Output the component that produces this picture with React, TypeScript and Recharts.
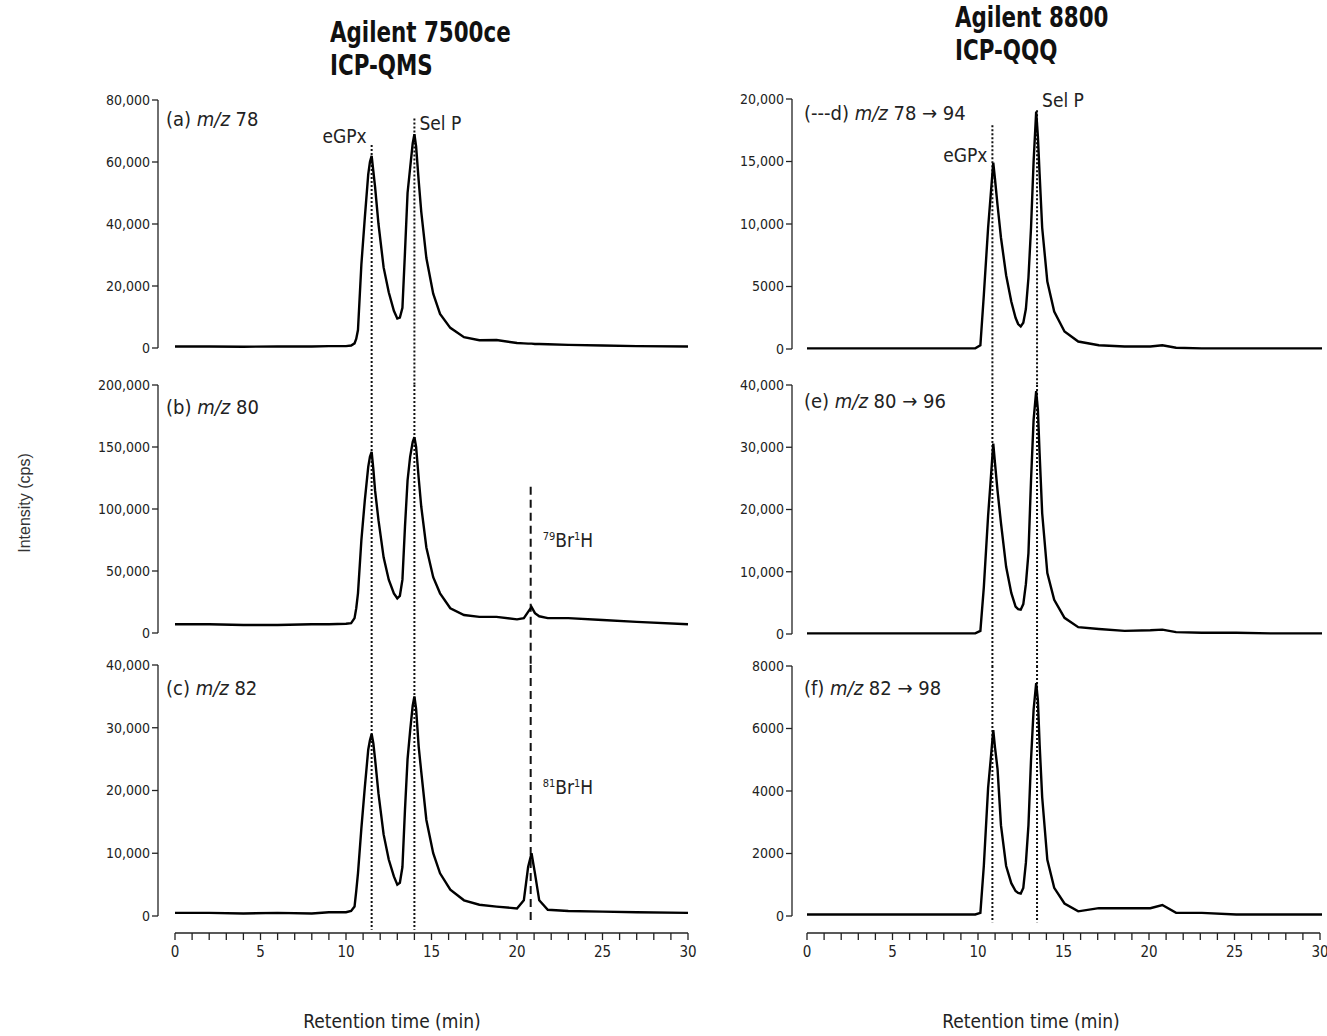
import React from 'react';
import { LineChart, Line, XAxis, YAxis, ReferenceLine } from 'recharts';

const FONT = "'Liberation Sans Narrow', 'DejaVu Sans Condensed', 'DejaVu Sans', sans-serif";
const INK = '#222';

// ICP-QMS (7500ce) retention times, min
const qmsTime = [0, 2, 4, 6, 8, 9, 10, 10.3, 10.5, 10.6, 10.7, 10.9, 11.1, 11.3, 11.4, 11.5, 11.6, 11.7, 11.9, 12.2, 12.5, 12.8, 13.0, 13.15, 13.3, 13.45, 13.6, 13.75, 13.9, 14.0, 14.1, 14.25, 14.4, 14.7, 15.1, 15.5, 16.1, 16.9, 17.8, 18.8, 20.0, 20.4, 20.65, 20.85, 21.05, 21.3, 21.8, 23, 25, 27, 30];
const mz78 = [500, 500, 400, 500, 500, 600, 600, 800, 1500, 3000, 5800, 27000, 42000, 56000, 60000, 62000, 57000, 52000, 40000, 26000, 18000, 12000, 9500, 9800, 13000, 31000, 50000, 58000, 66000, 69000, 65000, 54000, 44000, 29000, 17500, 11000, 6500, 3500, 2500, 2600, 1600, 1500, 1400, 1400, 1300, 1300, 1200, 1000, 800, 600, 500];
const mz80 = [7000, 7000, 6500, 6500, 7000, 7000, 7500, 8000, 12000, 20000, 32000, 75000, 107000, 134000, 142000, 146000, 132000, 115000, 91000, 61000, 43000, 32000, 28000, 30000, 43000, 86000, 123000, 142000, 154000, 158000, 150000, 125000, 102000, 69000, 45000, 32000, 20000, 14500, 13000, 13000, 11000, 12000, 17000, 21000, 16000, 13500, 12000, 12000, 10500, 9000, 7000];
const mz82 = [500, 500, 400, 500, 400, 600, 600, 800, 1500, 4000, 6800, 14000, 20500, 26500, 28000, 29000, 27500, 25000, 19500, 13000, 9000, 6300, 5000, 5300, 7800, 17000, 25000, 29500, 33500, 35000, 33000, 27000, 23000, 15300, 10000, 6800, 4200, 2500, 1800, 1500, 1200, 2500, 7800, 10000, 6800, 2500, 1000, 800, 700, 600, 500];

// ICP-QQQ (8800) retention times, min
const qqqTime = [0, 2, 4, 6, 8, 9, 9.8, 10.1, 10.3, 10.55, 10.7, 10.85, 10.95, 11.1, 11.3, 11.6, 11.9, 12.15, 12.3, 12.45, 12.6, 12.75, 12.9, 13.05, 13.2, 13.35, 13.45, 13.55, 13.7, 14.0, 14.4, 15.0, 15.8, 17, 18.5, 20, 20.7, 21.5, 23, 25, 27, 30];
const mz78to94 = [50, 50, 50, 50, 50, 50, 50, 300, 4300, 9700, 12300, 14900, 13600, 11500, 8900, 5900, 3800, 2500, 2000, 1800, 2100, 3200, 5700, 9700, 15000, 19000, 17000, 14000, 9700, 5400, 3000, 1400, 600, 300, 200, 200, 300, 100, 50, 50, 50, 50];
const mz80to96 = [100, 100, 100, 100, 100, 100, 100, 500, 7500, 19000, 24700, 30600, 27500, 23000, 17800, 10800, 6600, 4400, 4000, 3900, 4800, 8000, 13000, 24700, 34400, 39000, 36000, 29000, 19400, 9800, 5500, 2600, 1100, 800, 500, 600, 700, 300, 200, 200, 100, 100];
const mz82to98 = [50, 50, 50, 50, 50, 50, 50, 100, 1600, 4100, 5000, 5950, 5400, 4700, 2900, 1600, 1050, 800, 740, 720, 900, 1700, 2900, 5000, 6600, 7450, 6900, 5500, 3800, 1800, 900, 400, 150, 250, 250, 250, 350, 100, 100, 50, 50, 50];

const ticksA = [0, 20000, 40000, 60000, 80000];
const ticksB = [0, 50000, 100000, 150000, 200000];
const ticksC = [0, 10000, 20000, 30000, 40000];
const ticksD = [0, 5000, 10000, 15000, 20000];
const ticksE = [0, 10000, 20000, 30000, 40000];
const ticksF = [0, 2000, 4000, 6000, 8000];
const timeTicks = [0, 1, 2, 3, 4, 5, 6, 7, 8, 9, 10, 11, 12, 13, 14, 15, 16, 17, 18, 19, 20, 21, 22, 23, 24, 25, 26, 27, 28, 29, 30];

// peak positions
const qmsEGPx = 11.5;
const qmsSelP = 14.0;
const qmsBrH = 20.8;
const qqqEGPx = 10.8;
const qqqSelP = 13.4;

const fmt = (v: number) => (v >= 10000 ? v.toLocaleString('en-US') : String(v));
const rows = (time: number[], vals: number[]) => time.map((t, i) => ({ t, v: vals[i] }));

type Mark = { t: number; from: number; to: number; dash: string; label?: React.ReactNode; side?: 'left' | 'right'; dx?: number; dy?: number };

const PeakLabel = (text: React.ReactNode, side: 'left' | 'right', dx: number, dy: number) => (props: any) => {
  const vb = props.viewBox || {};
  return (
    <text
      x={side === 'left' ? vb.x - dx : vb.x + dx}
      y={vb.y + dy}
      textAnchor={side === 'left' ? 'end' : 'start'}
      fontFamily={FONT}
      fontSize={19}
      fill={INK}
      style={{ fontStretch: 'condensed' }}
    >
      {text}
    </text>
  );
};

const BrH = (mass: string) => (
  <>
    <tspan fontSize={11} dy={-7}>{mass}</tspan>
    <tspan dy={7}>Br</tspan>
    <tspan fontSize={11} dy={-7}>1</tspan>
    <tspan dy={7}>H</tspan>
  </>
);

interface PanelProps {
  left: number;
  yTop: number;
  yZero: number;
  data: { t: number; v: number }[];
  yMax: number;
  ticks: number[];
  padLeft: number;
  marks: Mark[];
}

const Panel: React.FC<PanelProps> = ({ left, yTop, yZero, data, yMax, ticks, padLeft, marks }) => (
  <div style={{ position: 'absolute', left, top: yTop - 10 }}>
    <LineChart width={600} height={yZero - yTop + 14} data={data} margin={{ top: 10, right: 2, bottom: 4, left: 0 }}>
      <XAxis dataKey="t" type="number" domain={[0, 30]} hide height={0} padding={{ left: padLeft, right: 0 }} />
      <YAxis
        domain={[0, yMax]}
        ticks={ticks}
        interval={0}
        width={68}
        tickSize={6}
        tickFormatter={fmt}
        tick={{ fill: INK, fontSize: 14, fontFamily: FONT }}
        axisLine={{ stroke: INK, strokeWidth: 1.3 }}
        tickLine={{ stroke: INK, strokeWidth: 1.3 }}
      />
      {marks.map((m, i) => (
        <ReferenceLine
          key={i}
          segment={[{ x: m.t, y: m.from }, { x: m.t, y: m.to }]}
          stroke="#111"
          strokeWidth={2}
          strokeDasharray={m.dash}
          ifOverflow="visible"
          label={m.label ? PeakLabel(m.label, m.side || 'right', m.dx ?? 5, m.dy || 0) : undefined}
        />
      ))}
      <Line type="linear" dataKey="v" stroke="#000" strokeWidth={2.4} dot={false} isAnimationActive={false} />
    </LineChart>
  </div>
);

const TimeAxis: React.FC<{ left: number; data: { t: number; v: number }[] }> = ({ left, data }) => (
  <div style={{ position: 'absolute', left, top: 929 }}>
    <LineChart width={600} height={50} data={data} margin={{ top: 2, right: 2, bottom: 0, left: 85 }}>
      <XAxis
        dataKey="t"
        type="number"
        domain={[0, 30]}
        ticks={timeTicks}
        interval={0}
        height={46}
        tickSize={7}
        tickMargin={6}
        tickFormatter={(v: number) => (v % 5 === 0 ? String(v) : '')}
        tick={{ fill: INK, fontSize: 15, fontFamily: FONT }}
        axisLine={{ stroke: INK, strokeWidth: 1.6 }}
        tickLine={{ stroke: INK, strokeWidth: 1.3 }}
      />
    </LineChart>
  </div>
);

const txt = (left: number, top: number, size: number, children: React.ReactNode, extra: React.CSSProperties = {}) => (
  <div style={{ position: 'absolute', left, top, fontFamily: FONT, fontSize: size, lineHeight: `${size + 2}px`, color: INK, whiteSpace: 'nowrap', fontStretch: 'condensed', ...extra }}>
    {children}
  </div>
);

const titleStyle: React.CSSProperties = { fontWeight: 'bold', lineHeight: '33px', color: '#111', transform: 'scaleX(0.82)', transformOrigin: 'left top' };

const dot = '2 2';
const dash = '8 5';

export default function App() {
  return (
    <div style={{ position: 'absolute', left: 0, top: 0, width: 1327, height: 1036, background: '#fff', overflow: 'hidden' }}>
      <style>{'.recharts-surface{overflow:visible}.recharts-wrapper{overflow:visible}'}</style>

      {txt(330, 16, 29, <>Agilent 7500ce<br />ICP-QMS</>, titleStyle)}
      {txt(955, 1, 29, <>Agilent 8800<br />ICP-QQQ</>, titleStyle)}

      <Panel
        left={90} yTop={100} yZero={348} data={rows(qmsTime, mz78)} yMax={80000} ticks={ticksA} padLeft={17}
        marks={[
          { t: qmsEGPx, from: 65500, to: -12000, dash: dot, label: 'eGPx', side: 'left', dy: -2 },
          { t: qmsSelP, from: 74000, to: -12000, dash: dot, label: 'Sel P', side: 'right', dy: 11 },
        ]}
      />
      <Panel
        left={90} yTop={385} yZero={633} data={rows(qmsTime, mz80)} yMax={200000} ticks={ticksB} padLeft={17}
        marks={[
          { t: qmsEGPx, from: 200000, to: -26000, dash: dot },
          { t: qmsSelP, from: 200000, to: -26000, dash: dot },
          { t: qmsBrH, from: 118000, to: -26000, dash: dash, label: BrH('79'), side: 'right', dx: 12, dy: 60 },
        ]}
      />
      <Panel
        left={90} yTop={665} yZero={916} data={rows(qmsTime, mz82)} yMax={40000} ticks={ticksC} padLeft={17}
        marks={[
          { t: qmsEGPx, from: 40000, to: -2200, dash: dot },
          { t: qmsSelP, from: 40000, to: -2200, dash: dot },
          { t: qmsBrH, from: 40000, to: -1400, dash: dash, label: BrH('81'), side: 'right', dx: 12, dy: 129 },
        ]}
      />
      <TimeAxis left={90} data={rows(qmsTime, mz82)} />

      <Panel
        left={724} yTop={99} yZero={349} data={rows(qqqTime, mz78to94)} yMax={20000} ticks={ticksD} padLeft={15}
        marks={[
          { t: qqqEGPx, from: 17900, to: -2900, dash: dot, label: 'eGPx', side: 'left', dy: 37 },
          { t: qqqSelP, from: 19100, to: -2900, dash: dot, label: 'Sel P', side: 'right', dy: -3 },
        ]}
      />
      <Panel
        left={724} yTop={385} yZero={634} data={rows(qqqTime, mz80to96)} yMax={40000} ticks={ticksE} padLeft={15}
        marks={[
          { t: qqqEGPx, from: 40000, to: -5200, dash: dot },
          { t: qqqSelP, from: 40000, to: -5200, dash: dot },
        ]}
      />
      <Panel
        left={724} yTop={666} yZero={916} data={rows(qqqTime, mz82to98)} yMax={8000} ticks={ticksF} padLeft={15}
        marks={[
          { t: qqqEGPx, from: 8000, to: -200, dash: dot },
          { t: qqqSelP, from: 8000, to: -200, dash: dot },
        ]}
      />
      <TimeAxis left={722} data={rows(qqqTime, mz82to98)} />

      {txt(166, 108, 20, <>(a) <i>m/z</i> 78</>)}
      {txt(166, 396, 20, <>(b) <i>m/z</i> 80</>)}
      {txt(166, 677, 20, <>(c) <i>m/z</i> 82</>)}
      {txt(804, 102, 20, <>(---d) <i>m/z</i> 78 → 94</>)}
      {txt(804, 390, 20, <>(e) <i>m/z</i> 80 → 96</>)}
      {txt(804, 677, 20, <>(f) <i>m/z</i> 82 → 98</>)}

      {txt(392, 1011, 19, 'Retention time (min)', { transform: 'translateX(-50%)' })}
      {txt(1031, 1011, 19, 'Retention time (min)', { transform: 'translateX(-50%)' })}
      {txt(25, 503, 16, 'Intensity (cps)', { fontFamily: "'Liberation Sans', Arial, sans-serif", fontStretch: 'normal', transform: 'translate(-50%, -50%) rotate(-90deg)', color: '#333' })}
    </div>
  );
}
